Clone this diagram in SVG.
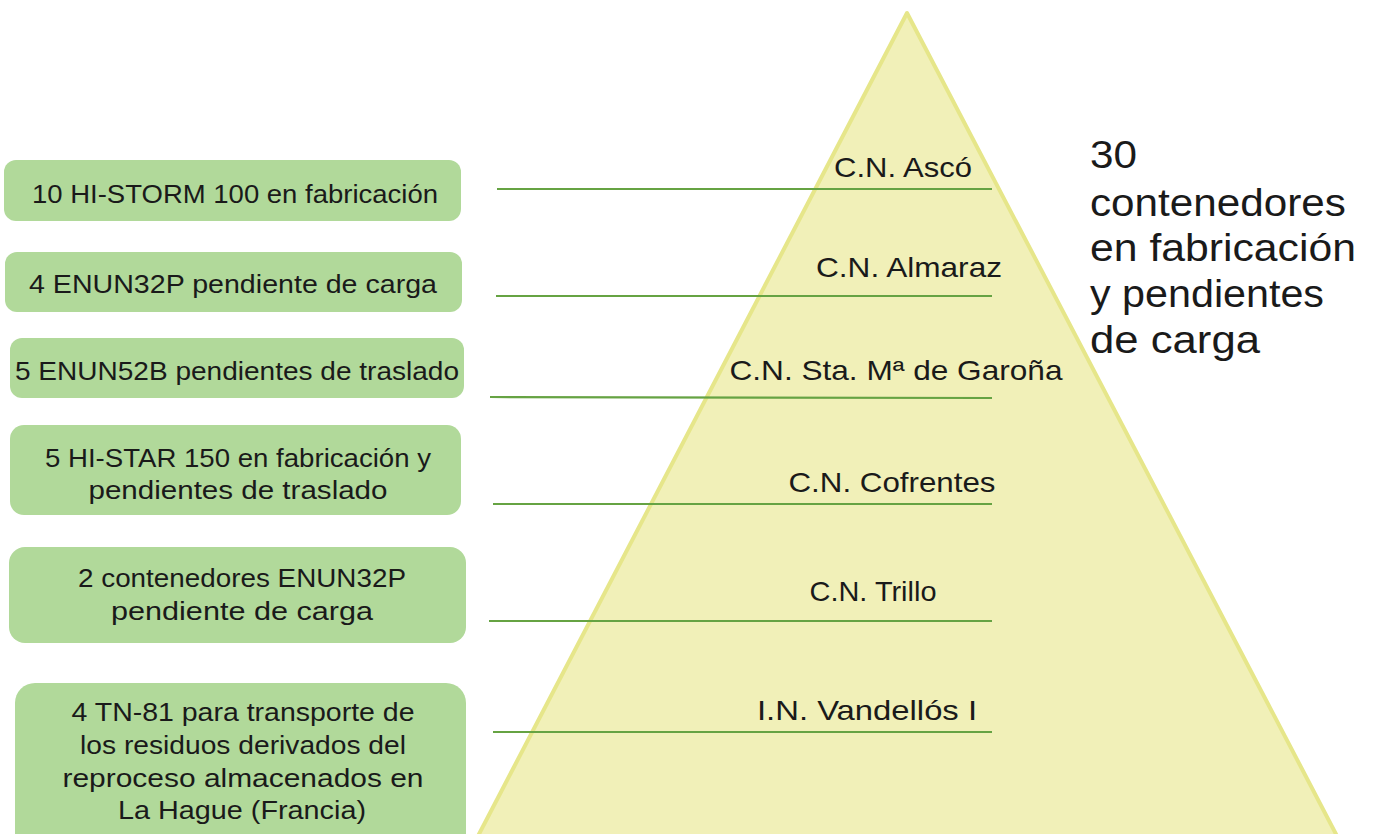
<svg xmlns="http://www.w3.org/2000/svg" width="1373" height="834" viewBox="0 0 1373 834">
<style>
.box{fill:#b1d99a;}
.bt{font-family:"Liberation Sans",Arial,sans-serif;font-size:26px;fill:#1a1a1a;text-anchor:middle;}
.lt{font-family:"Liberation Sans",Arial,sans-serif;font-size:28px;fill:#1a1a1a;text-anchor:middle;}
.rt{font-family:"Liberation Sans",Arial,sans-serif;font-size:38px;fill:#1a1a1a;}
.ln{stroke:#66a343;stroke-width:2.2;fill:none;}
</style>
<rect width="1373" height="834" fill="#ffffff"/>
<g id="pyramid">
<polygon points="907,13 478,836 1337,836" fill="#f1f0b8" stroke="#e6e68a" stroke-width="4" stroke-linejoin="round"/>
</g>
<g id="connectors">
<line class="ln" x1="497" y1="189" x2="992" y2="189"/>
<line class="ln" x1="496" y1="296" x2="992" y2="296"/>
<line class="ln" x1="490" y1="397" x2="992" y2="398"/>
<line class="ln" x1="493" y1="504" x2="992" y2="504"/>
<line class="ln" x1="489" y1="621" x2="992" y2="621"/>
<line class="ln" x1="493" y1="732" x2="992" y2="732"/>
</g>
<g id="label-asco"><text class="lt" x="903" y="177" textLength="138" lengthAdjust="spacingAndGlyphs">C.N. Ascó</text></g>
<g id="label-almaraz"><text class="lt" x="909" y="277" textLength="186" lengthAdjust="spacingAndGlyphs">C.N. Almaraz</text></g>
<g id="label-garona"><text class="lt" x="896" y="380" textLength="333" lengthAdjust="spacingAndGlyphs">C.N. Sta. Mª de Garoña</text></g>
<g id="label-cofrentes"><text class="lt" x="892" y="492" textLength="207" lengthAdjust="spacingAndGlyphs">C.N. Cofrentes</text></g>
<g id="label-trillo"><text class="lt" x="873" y="601" textLength="127" lengthAdjust="spacingAndGlyphs">C.N. Trillo</text></g>
<g id="label-vandellos"><text class="lt" x="867" y="720" textLength="220" lengthAdjust="spacingAndGlyphs">I.N. Vandellós I</text></g>
<g id="box1"><rect class="box" x="4" y="160" width="457" height="61" rx="12"/>
<text class="bt" x="235" y="203" textLength="406" lengthAdjust="spacingAndGlyphs">10 HI-STORM 100 en fabricación</text></g>
<g id="box2"><rect class="box" x="5" y="252" width="457" height="60" rx="12"/>
<text class="bt" x="233" y="293" textLength="408" lengthAdjust="spacingAndGlyphs">4 ENUN32P pendiente de carga</text></g>
<g id="box3"><rect class="box" x="10" y="338" width="454" height="60" rx="12"/>
<text class="bt" x="237" y="380" textLength="444" lengthAdjust="spacingAndGlyphs">5 ENUN52B pendientes de traslado</text></g>
<g id="box4"><rect class="box" x="10" y="425" width="451" height="90" rx="14"/>
<text class="bt" x="238" y="467" textLength="386" lengthAdjust="spacingAndGlyphs">5 HI-STAR 150 en fabricación y</text>
<text class="bt" x="238" y="499" textLength="299" lengthAdjust="spacingAndGlyphs">pendientes de traslado</text></g>
<g id="box5"><rect class="box" x="9" y="547" width="457" height="96" rx="16"/>
<text class="bt" x="242" y="587" textLength="328" lengthAdjust="spacingAndGlyphs">2 contenedores ENUN32P</text>
<text class="bt" x="242" y="620" textLength="262" lengthAdjust="spacingAndGlyphs">pendiente de carga</text></g>
<g id="box6"><rect class="box" x="15" y="683" width="451" height="170" rx="20"/>
<text class="bt" x="243" y="721" textLength="343" lengthAdjust="spacingAndGlyphs">4 TN-81 para transporte de</text>
<text class="bt" x="243" y="754" textLength="326" lengthAdjust="spacingAndGlyphs">los residuos derivados del</text>
<text class="bt" x="243" y="787" textLength="361" lengthAdjust="spacingAndGlyphs">reproceso almacenados en</text>
<text class="bt" x="242" y="819" textLength="248" lengthAdjust="spacingAndGlyphs">La Hague (Francia)</text></g>
<g id="total">
<text class="rt" x="1090" y="168" textLength="47" lengthAdjust="spacingAndGlyphs">30</text>
<text class="rt" x="1090" y="216" textLength="256" lengthAdjust="spacingAndGlyphs">contenedores</text>
<text class="rt" x="1090" y="261" textLength="266" lengthAdjust="spacingAndGlyphs">en fabricación</text>
<text class="rt" x="1090" y="307" textLength="234" lengthAdjust="spacingAndGlyphs">y pendientes</text>
<text class="rt" x="1090" y="353" textLength="170" lengthAdjust="spacingAndGlyphs">de carga</text>
</g>
</svg>
